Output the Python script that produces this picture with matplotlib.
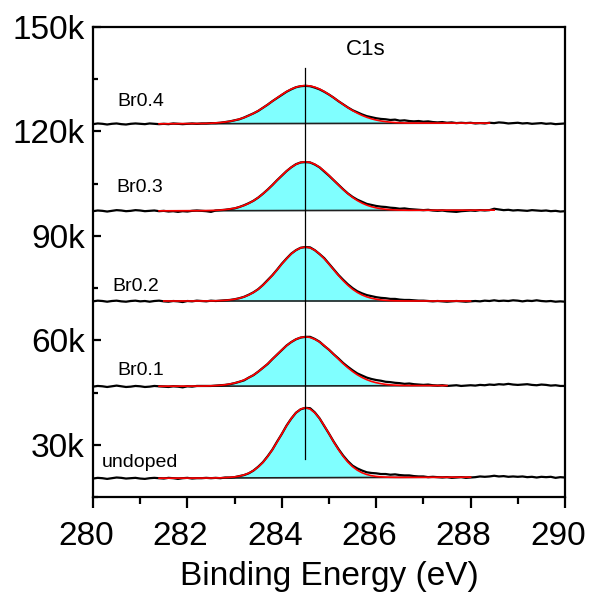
import matplotlib
matplotlib.use('Agg')
import matplotlib.pyplot as plt
from matplotlib import rcParams
from matplotlib.ticker import MultipleLocator, FuncFormatter
import matplotlib.transforms as mtransforms
import numpy as np

rcParams['font.family'] = ['Liberation Sans', 'DejaVu Sans']

# binding energy grid of the scans (eV)
energy = np.round(np.arange(280.0, 290.05, 0.1), 1)
# grid of the fitted C1s component
fit_energy = np.round(np.arange(282.3, 286.75, 0.1), 1)

labels = ['undoped', 'Br0.1', 'Br0.2', 'Br0.3', 'Br0.4']

# raw counts (k), offset stacked
raw_undoped = [
    20.3, 20.5, 20.4, 20.2, 20.4, 20.6, 20.5, 20.3, 20.4, 20.5,
    20.3, 20.2, 20.4, 20.5, 20.4, 20.3, 20.5, 20.4, 20.2, 20.4,
    20.5, 20.3, 20.4, 20.4, 20.5, 20.4, 20.5, 20.4, 20.6, 20.6,
    20.7, 21.0, 21.3, 21.8, 22.6, 23.7, 25.0, 26.7, 28.6, 30.9,
    33.1, 35.5, 37.5, 39.2, 40.2, 40.6, 40.5, 39.3, 37.6, 35.4,
    33.2, 30.9, 28.8, 26.9, 25.3, 24.0, 23.2, 22.6, 22.1, 21.9,
    21.8, 21.6, 21.6, 21.4, 21.5, 21.3, 21.2, 21.2, 21.0, 20.9,
    20.9, 20.7, 20.8, 20.7, 20.6, 20.7, 20.5, 20.6, 20.7, 20.5,
    20.6, 20.7, 20.9, 20.8, 20.9, 21.1, 20.9, 21.0, 20.8, 20.9,
    20.8, 20.9, 20.7, 20.8, 20.6, 20.8, 20.7, 20.8, 20.5, 20.7,
    20.6]
raw_br01 = [
    46.7, 46.9, 46.8, 46.6, 46.8, 47.0, 46.8, 46.6, 46.7, 46.9,
    46.8, 46.6, 46.7, 46.9, 46.8, 46.7, 46.6, 46.8, 46.7, 46.5,
    46.8, 46.7, 46.9, 46.9, 46.9, 46.9, 47.0, 47.1, 47.2, 47.4,
    47.7, 48.1, 48.5, 49.3, 50.0, 51.0, 52.1, 53.2, 54.6, 55.9,
    57.2, 58.5, 59.5, 60.3, 60.8, 61.0, 61.0, 60.4, 59.6, 58.4,
    57.3, 56.0, 54.8, 53.5, 52.4, 51.4, 50.5, 49.9, 49.3, 48.9,
    48.6, 48.4, 48.1, 48.0, 47.8, 47.7, 47.5, 47.6, 47.4, 47.3,
    47.2, 47.3, 47.1, 47.0, 47.1, 46.9, 47.0, 47.1, 46.9, 47.0,
    47.1, 47.0, 47.2, 47.1, 47.3, 47.2, 47.4, 47.3, 47.5, 47.3,
    47.2, 47.3, 47.4, 47.2, 47.1, 47.3, 47.2, 47.0, 47.1, 46.9,
    46.9]
raw_br02 = [
    71.2, 71.4, 71.3, 71.1, 71.3, 71.4, 71.2, 71.1, 71.3, 71.4,
    71.2, 71.3, 71.1, 71.3, 71.4, 71.2, 71.1, 71.3, 71.2, 71.0,
    71.3, 71.2, 71.4, 71.3, 71.2, 71.4, 71.3, 71.4, 71.5, 71.6,
    71.8, 72.1, 72.5, 73.1, 73.8, 74.7, 75.9, 77.3, 78.7, 80.3,
    82.0, 83.5, 84.9, 85.9, 86.6, 86.8, 86.7, 85.9, 84.8, 83.6,
    82.0, 80.4, 78.8, 77.4, 76.1, 75.0, 74.1, 73.5, 73.0, 72.7,
    72.4, 72.2, 72.1, 71.9, 71.9, 71.7, 71.6, 71.6, 71.5, 71.4,
    71.4, 71.3, 71.2, 71.3, 71.2, 71.1, 71.2, 71.3, 71.2, 71.1,
    71.2, 71.3, 71.2, 71.4, 71.3, 71.5, 71.3, 71.4, 71.3, 71.5,
    71.4, 71.2, 71.4, 71.3, 71.5, 71.3, 71.2, 71.3, 71.1, 71.2,
    71.1]
raw_br03 = [
    97.1, 97.3, 97.2, 97.0, 97.2, 97.4, 97.3, 97.1, 97.2, 97.4,
    97.3, 97.1, 97.2, 97.3, 97.1, 97.2, 97.0, 97.1, 96.9, 97.1,
    97.0, 97.2, 97.3, 97.2, 97.1, 96.9, 97.3, 97.4, 97.5, 97.7,
    97.9, 98.3, 98.8, 99.4, 100.1, 101.0, 102.1, 103.3, 104.6, 106.0,
    107.3, 108.6, 109.7, 110.6, 111.1, 111.2, 111.1, 110.5, 109.7, 108.5,
    107.3, 106.0, 104.7, 103.4, 102.2, 101.2, 100.4, 99.8, 99.2, 98.9,
    98.6, 98.4, 98.3, 98.1, 98.0, 97.8, 97.9, 97.7, 97.6, 97.5,
    97.4, 97.5, 97.3, 97.2, 97.3, 97.1, 97.0, 96.9, 97.1, 97.2,
    97.3, 97.2, 97.4, 97.3, 97.4, 97.8, 97.6, 97.4, 97.5, 97.3,
    97.4, 97.3, 97.2, 97.4, 97.3, 97.2, 97.3, 97.1, 97.2, 97.0,
    97.1]
raw_br04 = [
    122.1, 122.3, 122.2, 122.0, 122.2, 122.3, 122.1, 122.0, 122.2, 122.3,
    122.2, 122.1, 122.3, 122.2, 122.1, 122.2, 122.1, 122.3, 122.2, 122.1,
    122.2, 122.3, 122.2, 122.3, 122.3, 122.4, 122.4, 122.5, 122.7, 122.9,
    123.2, 123.5, 124.0, 124.6, 125.2, 125.9, 126.8, 127.7, 128.7, 129.6,
    130.5, 131.4, 132.1, 132.7, 133.0, 133.1, 133.0, 132.6, 132.1, 131.4,
    130.6, 129.7, 128.7, 127.8, 126.9, 126.1, 125.5, 124.9, 124.4, 124.1,
    123.8, 123.6, 123.5, 123.3, 123.4, 123.1, 123.2, 123.0, 122.9, 123.0,
    122.8, 122.9, 122.7, 122.6, 122.7, 122.5, 122.6, 122.4, 122.5, 122.4,
    122.5, 122.3, 122.4, 122.3, 122.5, 122.4, 122.6, 122.5, 122.3, 122.4,
    122.5, 122.3, 122.4, 122.2, 122.3, 122.4, 122.2, 122.3, 122.1, 122.2,
    122.3]
raw = [raw_undoped, raw_br01, raw_br02, raw_br03, raw_br04]

# fitted C1s component above background (k), on fit_energy
peak_undoped = [
    0, 0, 0, 0.02, 0.05, 0.10, 0.18, 0.30, 0.52, 0.86, 1.37, 2.11, 3.12, 4.44, 6.11,
    8.06, 10.27, 12.62, 14.91, 17.0, 18.65, 19.72, 20.1, 19.72, 18.65, 17.0, 14.91,
    12.62, 10.27, 8.06, 6.11, 4.44, 3.12, 2.11, 1.37, 0.86, 0.52, 0.30, 0.18, 0.10,
    0.05, 0.02, 0, 0, 0]
peak_br01 = [
    0.04, 0.06, 0.10, 0.16, 0.25, 0.39, 0.61, 0.88, 1.25, 1.76, 2.40, 3.17, 4.12, 5.20,
    6.40, 7.71, 9.05, 10.36, 11.58, 12.62, 13.42, 13.93, 14.1, 13.93, 13.42, 12.62,
    11.58, 10.36, 9.05, 7.71, 6.40, 5.20, 4.12, 3.17, 2.40, 1.76, 1.25, 0.88, 0.61,
    0.39, 0.25, 0.16, 0.10, 0.06, 0.04]
peak_br02 = [
    0.01, 0.02, 0.04, 0.06, 0.11, 0.19, 0.31, 0.51, 0.79, 1.19, 1.74, 2.46, 3.38, 4.53,
    5.86, 7.36, 8.96, 10.60, 12.15, 13.52, 14.59, 15.27, 15.5, 15.27, 14.59, 13.52,
    12.15, 10.60, 8.96, 7.36, 5.86, 4.53, 3.38, 2.46, 1.74, 1.19, 0.79, 0.51, 0.31,
    0.19, 0.11, 0.06, 0.04, 0.02, 0.01]
peak_br03 = [
    0.02, 0.04, 0.07, 0.12, 0.19, 0.31, 0.48, 0.72, 1.06, 1.51, 2.10, 2.84, 3.75, 4.82,
    6.02, 7.34, 8.71, 10.07, 11.34, 12.43, 13.29, 13.82, 14.0, 13.82, 13.29, 12.43,
    11.34, 10.07, 8.71, 7.34, 6.02, 4.82, 3.75, 2.84, 2.10, 1.51, 1.06, 0.72, 0.48,
    0.31, 0.19, 0.12, 0.07, 0.04, 0.02]
peak_br04 = [
    0.06, 0.09, 0.14, 0.22, 0.33, 0.48, 0.68, 0.95, 1.30, 1.74, 2.29, 2.94, 3.69, 4.53,
    5.45, 6.41, 7.38, 8.32, 9.17, 9.89, 10.44, 10.78, 10.9, 10.78, 10.44, 9.89,
    9.17, 8.32, 7.38, 6.41, 5.45, 4.53, 3.69, 2.94, 2.29, 1.74, 1.30, 0.95, 0.68,
    0.48, 0.33, 0.22, 0.14, 0.09, 0.06]
peaks = [peak_undoped, peak_br01, peak_br02, peak_br03, peak_br04]

# linear background: start/end energy and level (k)
bg_e0 = [281.4, 281.4, 281.5, 281.4, 281.4]
bg_e1 = [288.0, 287.5, 288.0, 288.5, 288.4]
bg_y0 = [20.4, 46.8, 71.3, 97.2, 122.2]
bg_y1 = [20.7, 47.0, 71.3, 97.4, 122.4]

c1s_energy = 284.5

fig = plt.figure(figsize=(5.9, 5.94), dpi=100)
ax = fig.add_axes([0.1576, 0.1633, 0.8, 0.7912])

for i in range(len(labels)):
    e0, e1 = bg_e0[i], bg_e1[i]
    x_fit = np.concatenate([[e0], fit_energy, [e1]])
    bg = np.interp(x_fit, [e0, e1], [bg_y0[i], bg_y1[i]])
    comp = np.concatenate([[0], peaks[i], [0]])
    ax.fill_between(x_fit, bg, bg + comp, color='#80ffff', lw=0, zorder=1)
    ax.plot([e0, e1], [bg_y0[i], bg_y1[i]], color='#202020', lw=1.2, zorder=2)
    ax.plot(energy, raw[i], color='black', lw=1.6, zorder=3)
    ax.plot(x_fit, bg + comp, color='red', lw=1.2, zorder=4)

# C1s position marker
ax.plot([c1s_energy, c1s_energy], [26.0, 138.2], color='black', lw=0.9, zorder=5)
ax.text(285.35, 143.5, 'C1s', fontsize=16, va='center', ha='left')

label_pos = [(280.19, 24.8), (280.51, 51.2), (280.42, 75.4), (280.49, 103.8), (280.51, 128.5)]
for (lx, ly), s in zip(label_pos, labels):
    ax.text(lx, ly, s, fontsize=14, va='center', ha='left')

ax.set_xlim(280, 290)
ax.set_ylim(15, 150)
ax.xaxis.set_major_locator(MultipleLocator(2))
ax.xaxis.set_minor_locator(MultipleLocator(1))
ax.yaxis.set_major_locator(MultipleLocator(30))
ax.yaxis.set_minor_locator(MultipleLocator(15))
ax.yaxis.set_major_formatter(FuncFormatter(lambda v, p: f'{int(round(v))}k'))

for sp in ax.spines.values():
    sp.set_linewidth(1.6)
ax.tick_params(axis='y', which='major', direction='in', length=5.5, width=1.6, labelsize=24, pad=6)
ax.tick_params(axis='y', which='minor', direction='in', length=3.5, width=1.6)
ax.tick_params(axis='x', which='major', direction='out', length=8, width=1.6, labelsize=24, pad=9)
ax.tick_params(axis='x', which='minor', direction='out', length=5, width=1.6)
ax.set_xlabel('Binding Energy (eV)', fontsize=24, labelpad=7)

# x tick labels sit a little left of their ticks
shift = mtransforms.ScaledTranslation(-7 / 100, 0, fig.dpi_scale_trans)
for lab in ax.get_xticklabels():
    lab.set_transform(lab.get_transform() + shift)

fig.savefig('out.png', dpi=100)
